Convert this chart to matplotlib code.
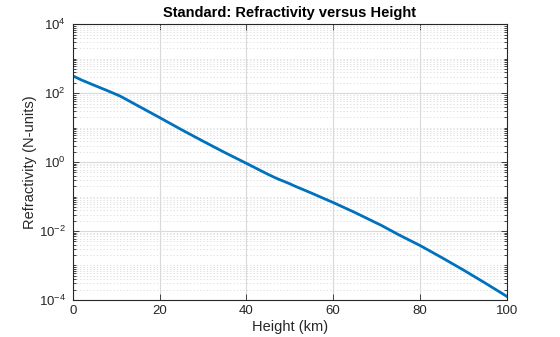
import numpy as np
import matplotlib
matplotlib.use("Agg")
import matplotlib.pyplot as plt
from matplotlib.ticker import FixedLocator, NullFormatter

plt.rcParams['font.family'] = ['Liberation Sans', 'DejaVu Sans']
plt.rcParams['mathtext.fontset'] = 'custom'
plt.rcParams['mathtext.rm'] = 'Liberation Sans'

# height (km) and refractivity (N-units)
height = [0, 2, 5, 8, 10, 11, 15, 20, 25, 30, 35, 40, 45, 47, 50, 51,
          55, 60, 65, 70, 71, 75, 80, 85, 90, 95, 100]
refractivity = [317.7, 241.5, 168.1, 118.0, 92.3, 81.2, 43.1, 19.6, 8.79, 4.05,
                1.90, 0.92, 0.44, 0.335, 0.235, 0.205, 0.126, 0.067,
                0.0345, 0.0170, 0.0148, 0.0079, 0.0038, 0.0017, 7.4e-4,
                3.1e-4, 1.27e-4]

ytick_vals = [1e-4, 1e-2, 1e0, 1e2, 1e4]
ytick_labels = ['$10^{-4}$', '$10^{-2}$', '$10^{0}$', '$10^{2}$', '$10^{4}$']

dark = '#262626'
fig = plt.figure(figsize=(5.6, 3.37), dpi=100)
ax = fig.add_axes([0.13, 0.11, 0.775, 0.818])

ax.semilogy(height, refractivity, color='#0072BD', linewidth=2)

ax.set_xlim(0, 100)
ax.set_ylim(1e-4, 1e4)
ax.set_xticks([0, 20, 40, 60, 80, 100])
ax.set_yticks(ytick_vals)
ax.set_yticklabels(ytick_labels)
minors = [m * 10.0 ** e for e in range(-4, 4) for m in range(1, 10)
          if not (m == 1 and e % 2 == 0)]
ax.yaxis.set_minor_locator(FixedLocator(minors))
ax.yaxis.set_minor_formatter(NullFormatter())

ax.grid(True, which='major', color='#d9d9d9', linewidth=0.8)
ax.grid(True, which='minor', axis='y', color='#d9d9d9', linewidth=0.6,
        linestyle=(0, (1.5, 2.5)))
ax.set_axisbelow(True)

ax.tick_params(which='both', direction='in', top=True, right=True,
               colors=dark, labelsize=9.5, width=0.6)
ax.tick_params(which='major', length=4)
ax.tick_params(which='minor', length=2)
ax.tick_params(axis='y', pad=5)
for s in ax.spines.values():
    s.set_color(dark)
    s.set_linewidth(0.8)

ax.set_xlabel('Height (km)', fontsize=10.5, color=dark, labelpad=2)
ax.set_ylabel('Refractivity (N-units)', fontsize=10.5, color=dark, labelpad=1)
ax.set_title('Standard: Refractivity versus Height', fontsize=10.5,
             fontweight='bold', color='black', pad=5)

fig.savefig('out.png', dpi=100)
